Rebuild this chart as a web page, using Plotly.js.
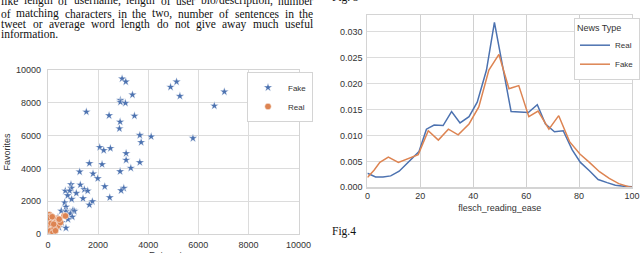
<!DOCTYPE html>
<html><head><meta charset="utf-8">
<script src="https://cdn.plot.ly/plotly-3.0.1.min.js"></script>
<style>html,body{margin:0;padding:0;overflow:hidden;background:#fff}</style>
</head><body><div id="chart" style="width:640px;height:253px"></div>
<script>
// ---- Left chart: Retweets vs Favorites ----
const fakeRetweets = [2960,3107,5133,4893,5267,7040,6640,3373,2893,2893,3093,1533,2440,3453,2880,2853,3667,4120,3720,5787,2067,2227,2493,3120,3120,3667,1653,2160,3307,1267,2880,1800,1987,920,1293,2267,933,1453,1587,3027,2920,693,867,1133,2467,787,947,1400,1773,1653,667,720,1000,1053,533,720,893,973,800,720,440,400,300,550];
const fakeFavorites = [9470,9286,9286,8959,8408,8673,7816,8490,8163,8041,7980,7449,7224,7204,6837,6429,6020,5939,5592,5837,5286,5102,5224,4918,4510,4367,4306,4245,4020,3796,3816,3673,3388,3020,3000,2898,2796,2714,2633,2796,2653,2633,2633,2490,2224,2347,2122,2163,1980,1776,1918,1653,1449,1388,1408,1367,1245,1041,898,367,408,1000,600,700];
const realRetweets = [60,110,650,700,360,260,300,180,420,380,210,120,50,80,150,30,20,40,100,200,60,90,130,250,300,10,170,500,450,230];
const realFavorites = [1180,1080,1120,1100,950,900,850,800,560,480,700,500,400,300,250,150,50,620,200,100,900,760,650,350,200,1000,1050,700,900,600];
const scatterTicks = [0,2000,4000,6000,8000,10000];

// ---- Right chart: flesch_reading_ease density ----
const fleschReal = [0,3.1,5.9,8.8,12,15.7,19.5,22.3,25.2,28.6,31.8,35,38.4,41.5,45,48,50.8,54.3,57.5,60.8,64.2,67.3,70.7,74,77.4,80.5,83.9,87.2,90.6,93.7,96.9,100];
const densityReal = [0.0027,0.0020,0.0020,0.0022,0.0031,0.0049,0.0069,0.0112,0.0120,0.0119,0.0146,0.0124,0.0136,0.0164,0.0226,0.0318,0.0239,0.0146,0.0145,0.0144,0.0159,0.0122,0.0107,0.0109,0.0072,0.0048,0.0032,0.0015,0.0009,0.0004,0.0002,0.0001];
const fleschFake = [0,2.5,4.7,7.9,11.7,15.1,19.2,23,26.8,30.6,34.3,38.4,42.1,45.9,49.7,53.5,57.2,61,64.5,68.6,72.3,76.4,80.3,83.9,87.7,91.4,95,98.7,100];
const densityFake = [0.0019,0.0033,0.0048,0.0058,0.0048,0.0055,0.0063,0.0109,0.0091,0.0112,0.0101,0.0122,0.0155,0.0226,0.0256,0.0190,0.0196,0.0136,0.0147,0.0112,0.0138,0.0088,0.0064,0.0048,0.0030,0.0017,0.0007,0.0001,0.0000];
const densityTicks = [0,0.005,0.010,0.015,0.020,0.025,0.030];
const fleschTicks = [0,20,40,60,80,100];

// ---- Page text ----
const paragraphLines = [
  "like length of username, length of user bio/description, number",
  "of matching characters in the two, number of sentences in the",
  "tweet or average word length do not give away much useful",
  "information."
];
const figLabels = ["Fig. 3", "Fig.4"];
const scatterXTitle = "Retweets";

const BLUE = "#4c72b0", ORANGE = "#dd8452";
const tickFont = {family: "Liberation Sans, Arial", size: 9, color: "#333"};
const SERIF_FAMILY = "Liberation Serif";
const SERIF_SIZE = 11.5;
const serif = {family: SERIF_FAMILY + ", Times New Roman", size: SERIF_SIZE, color: "#111"};

const traces = [
  {x: fakeRetweets, y: fakeFavorites, type: "scatter", mode: "markers", name: "Fake",
   marker: {symbol: "star", size: 6.5, color: BLUE, line: {color: "#fff", width: 0.4}},
   xaxis: "x", yaxis: "y", legend: "legend"},
  {x: realRetweets, y: realFavorites, type: "scatter", mode: "markers", name: "Real",
   marker: {symbol: "circle", size: 6.5, color: ORANGE, line: {color: "#fff", width: 0.5}},
   xaxis: "x", yaxis: "y", legend: "legend"},
  {x: fleschReal, y: densityReal, type: "scatter", mode: "lines", name: "Real",
   line: {color: BLUE, width: 1.5}, xaxis: "x2", yaxis: "y2", legend: "legend2"},
  {x: fleschFake, y: densityFake, type: "scatter", mode: "lines", name: "Fake",
   line: {color: ORANGE, width: 1.5}, xaxis: "x2", yaxis: "y2", legend: "legend2"}
];

function ax(extra) {
  return Object.assign({
    showgrid: true, gridcolor: "#dcdcdc", gridwidth: 1, zeroline: false,
    showline: true, linecolor: "#d4d4d4", linewidth: 1.2, mirror: true,
    ticks: "", tickfont: tickFont, automargin: false, fixedrange: true
  }, extra);
}

const H = 253, W = 640;
const py = p => 1 - p / H;
const px = p => p / W;

// Justified paragraph: each word placed along the 313px column
const TEXT_WIDTH = 313;
const lineCenters = [1, 13.5, 24, 33.5];
const ctx = document.createElement("canvas").getContext("2d");
ctx.font = SERIF_SIZE + "px '" + SERIF_FAMILY + "'";
const annotations = [];
paragraphLines.forEach((line, i) => {
  const words = line.split(" ");
  const last = i === paragraphLines.length - 1;
  const widths = words.map(w => ctx.measureText(w).width);
  const total = widths.reduce((a, b) => a + b, 0);
  const gap = last ? ctx.measureText(" ").width : (TEXT_WIDTH - total) / (words.length - 1);
  let cx = 0;
  words.forEach((w, j) => {
    annotations.push({text: w, xref: "paper", yref: "paper", x: px(cx), y: py(lineCenters[i]),
      xanchor: "left", yanchor: "middle", showarrow: false, font: serif, borderpad: 0});
    cx += widths[j] + gap;
  });
});
annotations.push({text: figLabels[0], xref: "paper", yref: "paper", x: px(331), y: py(-3),
  xanchor: "left", yanchor: "middle", showarrow: false, font: serif});
annotations.push({text: figLabels[1], xref: "paper", yref: "paper", x: px(331), y: py(231.5),
  xanchor: "left", yanchor: "middle", showarrow: false, font: serif});
// x-axis title of the scatter (cut by the page edge, as in the reference)
annotations.push({text: scatterXTitle, xref: "paper", yref: "paper", x: px(168), y: py(254.5),
  xanchor: "center", yanchor: "middle", showarrow: false, font: tickFont, borderpad: 0});

const layout = {
  width: W, height: H, margin: {l: 0, r: 0, t: 0, b: 0},
  paper_bgcolor: "#fff", plot_bgcolor: "#fff",
  xaxis: ax({domain: [px(48), px(299)], range: [0, 10000], tickvals: scatterTicks, tickformat: "d",
    ticklabelstandoff: 2, anchor: "y"}),
  yaxis: ax({domain: [py(234), py(70)], range: [0, 10000], tickvals: scatterTicks, tickformat: "d",
    ticklabelstandoff: 4,
    title: {text: "Favorites", font: tickFont, standoff: 3}, anchor: "x"}),
  xaxis2: ax({domain: [px(368), px(633)], range: [0, 100], tickvals: fleschTicks,
    title: {text: "flesch_reading_ease", font: tickFont, standoff: 4}, anchor: "y2",
    gridcolor: "#d0d0d0"}),
  yaxis2: ax({domain: [py(187.3), py(15)], range: [0, 0.0332], tickvals: densityTicks,
    tickformat: ".3f", ticklabelstandoff: 2, anchor: "x2"}),
  legend: {x: px(247), y: py(72), xanchor: "left", yanchor: "top",
    bgcolor: "#fff", bordercolor: "#d4d4d4", borderwidth: 1, tracegroupgap: 0,
    font: {family: "Liberation Sans, Arial", size: 8, color: "#333"}},
  legend2: {x: px(575), y: py(18), xanchor: "left", yanchor: "top",
    bgcolor: "#fff", bordercolor: "#d4d4d4", borderwidth: 1,
    title: {text: "News Type", font: {family: "Liberation Sans, Arial", size: 9, color: "#333"}},
    font: {family: "Liberation Sans, Arial", size: 8, color: "#333"}},
  annotations: annotations,
  showlegend: true
};

Plotly.newPlot("chart", traces, layout, {staticPlot: true, displayModeBar: false});
</script></body></html>
